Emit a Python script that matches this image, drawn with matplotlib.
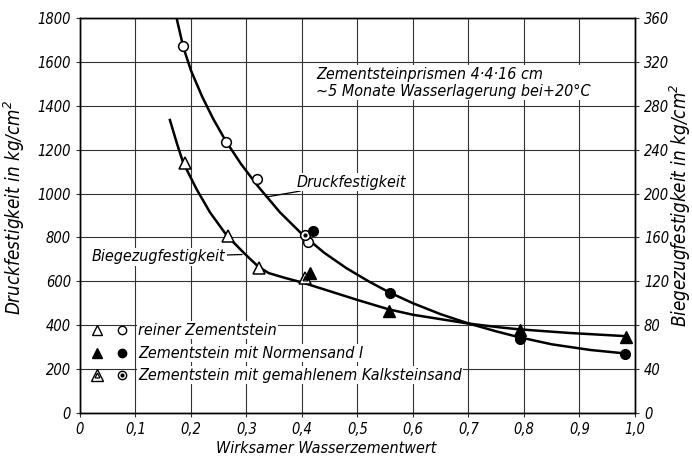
import matplotlib
matplotlib.use("Agg")
import matplotlib.pyplot as plt

plt.rcParams['font.family'] = ['DejaVu Sans']
plt.rcParams['font.style'] = 'italic'
plt.rcParams['font.stretch'] = 'condensed'

# Druckfestigkeit (left axis, kg/cm2) - circles
x_rein_circ = [0.185, 0.263, 0.319, 0.41]
druck_rein = [1670, 1235, 1066, 779]
x_norm_circ = [0.42, 0.559, 0.793, 0.982]
druck_norm = [828, 547, 338, 270]
x_kalk_circ = [0.405]
druck_kalk = [812]

# Biegezugfestigkeit (right axis, kg/cm2) - triangles
x_rein_tri = [0.189, 0.266, 0.323]
biege_rein = [228, 161, 132]
x_norm_tri = [0.415, 0.557, 0.793, 0.984]
biege_norm = [128, 93, 76, 69]
x_kalk_tri = [0.405]
biege_kalk = [123]

# drawn curves
druck_curve_x = [0.174, 0.186, 0.20, 0.22, 0.24, 0.263, 0.29, 0.32, 0.36, 0.40, 0.44,
                 0.48, 0.52, 0.557, 0.60, 0.65, 0.70, 0.75, 0.79, 0.85, 0.92, 0.98]
druck_curve_y = [1800, 1668, 1560, 1442, 1340, 1238, 1135, 1035, 915, 815, 730,
                 660, 600, 550, 500, 450, 408, 372, 346, 313, 287, 272]
biege_curve_x = [0.162, 0.175, 0.186, 0.21, 0.234, 0.264, 0.297, 0.321, 0.34, 0.37,
                 0.40, 0.45, 0.50, 0.556, 0.60, 0.65, 0.70, 0.757, 0.79, 0.88, 0.984]
biege_curve_y = [267, 245, 228, 204, 183, 162, 145, 133.5, 127.5, 123,
                 119, 111, 103, 94.5, 89.5, 85.5, 81.5, 78, 76.3, 73, 70]

x_ticks = [0, 0.1, 0.2, 0.3, 0.4, 0.5, 0.6, 0.7, 0.8, 0.9, 1.0]
x_tick_labels = ['0', '0,1', '0,2', '0,3', '0,4', '0,5', '0,6', '0,7', '0,8', '0,9', '1,0']
left_ticks = list(range(0, 1801, 200))
right_ticks = list(range(0, 361, 40))

legend_labels = ['reiner Zementstein',
                 'Zementstein mit Normensand I',
                 'Zementstein mit gemahlenem Kalksteinsand']
legend_y = [378, 273, 173]

fig = plt.figure(figsize=(6.92, 4.59), dpi=100)
ax = fig.add_axes([0.1156, 0.1002, 0.8020, 0.8608])
ax2 = ax.twinx()

ax.set_xlim(0, 1.0)
ax.set_ylim(0, 1800)
ax2.set_ylim(0, 360)
ax.set_xticks(x_ticks)
ax.set_xticklabels(x_tick_labels)
ax.set_yticks(left_ticks)
ax2.set_yticks(right_ticks)
ax.grid(True, color='#333333', linewidth=0.8)
for a in (ax, ax2):
    a.tick_params(length=3, width=0.8, labelsize=10.5, color='#333333')
    for s in a.spines.values():
        s.set_linewidth(1.0)

ax.set_ylabel('Druckfestigkeit in kg/cm$^2$', fontsize=13.5)
ax.yaxis.set_label_coords(-0.096, 0.52)
ax2.set_ylabel('Biegezugfestigkeit in kg/cm$^2$', fontsize=13.5)
ax2.yaxis.set_label_coords(1.058, 0.525)
ax.set_xlabel('Wirksamer Wasserzementwert', fontsize=11.5)
ax.xaxis.set_label_coords(0.443, -0.072)

# curves
ax.plot(druck_curve_x, druck_curve_y, color='black', linewidth=1.8, zorder=3,
        solid_joinstyle='round')
ax2.plot(biege_curve_x, biege_curve_y, color='black', linewidth=1.8, zorder=3,
         solid_joinstyle='round')

ms = 7
# circles
ax.plot(x_rein_circ, druck_rein, 'o', ms=ms, mfc='white', mec='black', mew=1.1, zorder=4)
ax.plot(x_kalk_circ, druck_kalk, 'o', ms=ms, mfc='white', mec='black', mew=1.1, zorder=4)
ax.plot(x_kalk_circ, druck_kalk, 'o', ms=2, color='black', zorder=5)
ax.plot(x_norm_circ, druck_norm, 'o', ms=ms, color='black', zorder=5)
# triangles
ax2.plot(x_rein_tri, biege_rein, '^', ms=ms + 1, mfc='white', mec='black', mew=1.1, zorder=4)
ax2.plot(x_kalk_tri, biege_kalk, '^', ms=ms + 1, mfc='white', mec='black', mew=1.1, zorder=4)
ax2.plot(x_kalk_tri, biege_kalk, '^', ms=3.5, mfc='white', mec='black', mew=0.9, zorder=5)
ax2.plot(x_norm_tri, biege_norm, '^', ms=ms + 1, color='black', zorder=5)

# curve labels
ax.annotate('Druckfestigkeit', xy=(0.338, 985), xytext=(0.39, 1052),
            fontsize=11.5, va='center', ha='left',
            arrowprops=dict(arrowstyle='-', color='black', lw=0.9, shrinkA=0, shrinkB=0),
            bbox=dict(facecolor='white', edgecolor='none', pad=1))
ax.annotate('Biegezugfestigkeit', xy=(0.292, 722), xytext=(0.262, 711),
            fontsize=11.5, va='center', ha='right',
            arrowprops=dict(arrowstyle='-', color='black', lw=0.9, shrinkA=0, shrinkB=0),
            bbox=dict(facecolor='white', edgecolor='none', pad=1))

# note
ax.text(0.425, 1505, 'Zementsteinprismen 4·4·16 cm\n~5 Monate Wasserlagerung bei+20°C',
        fontsize=11.5, va='center', ha='left', linespacing=1.15,
        bbox=dict(facecolor='white', edgecolor='none', pad=1))

# legend
ax.plot(0.03, legend_y[0], '^', ms=6.5, mfc='white', mec='black', mew=1.0, zorder=4)
ax.plot(0.076, legend_y[0], 'o', ms=6, mfc='white', mec='black', mew=1.0, zorder=4)
ax.plot(0.03, legend_y[1], '^', ms=6.5, color='black', zorder=4)
ax.plot(0.076, legend_y[1], 'o', ms=6, color='black', zorder=4)
ax.plot(0.03, legend_y[2], '^', ms=8, mfc='white', mec='black', mew=1.0, zorder=4)
ax.plot(0.03, legend_y[2], '^', ms=3.5, mfc='white', mec='black', mew=0.9, zorder=5)
ax.plot(0.076, legend_y[2], 'o', ms=6, mfc='white', mec='black', mew=1.0, zorder=4)
ax.plot(0.076, legend_y[2], 'o', ms=2, color='black', zorder=5)
for yv, lab in zip(legend_y, legend_labels):
    ax.text(0.105, yv, lab, fontsize=11.5, va='center', ha='left',
            bbox=dict(facecolor='white', edgecolor='none', pad=1))

fig.savefig('out.png', dpi=100)
